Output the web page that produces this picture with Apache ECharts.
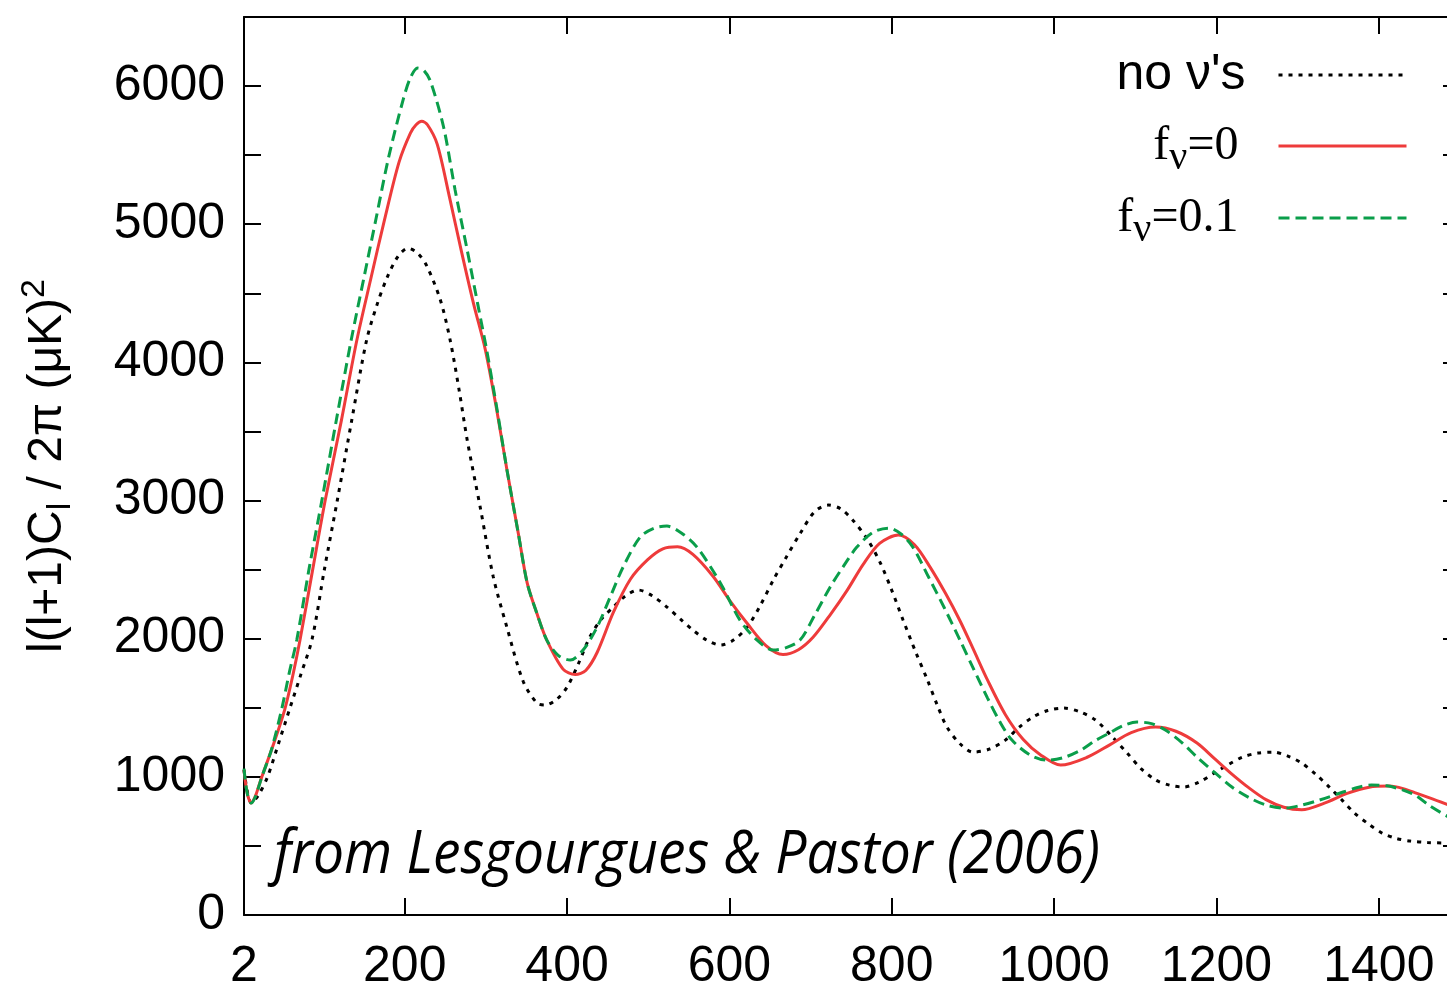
<!DOCTYPE html>
<html>
<head>
<meta charset="utf-8">
<script src="https://cdn.jsdelivr.net/npm/echarts@6/dist/echarts.min.js"></script>
<style>
html,body{margin:0;padding:0;background:#fff;}
#chart{width:1447px;height:985px;}
</style>
</head>
<body>
<div id="chart"></div>
<script>
// ---- data (multipole l, l(l+1)C_l/2pi in muK^2) ----
const seriesNames = ["no ν's", "fν=0", "fν=0.1"];

const lNoNu = [2,11,20,31,45,59,72,86,101,117,135,153,166,178,192,204,216,227,244,256,267,277,293,309,326,346,363,373,387,400,414,428,442,457,472,488,505,523,540,555,572,589,605,622,638,654,670,687,705,722,737,752,770,786,800,814,829,844,856,868,884,900,920,940,957,974,992,1012,1032,1051,1070,1090,1107,1125,1142,1159,1178,1197,1215,1232,1251,1270,1288,1305,1322,1339,1355,1370,1387,1404,1421,1439,1460,1484,1500];
const cNoNu = [1050,810,870,1000,1250,1505,1740,2000,2500,3003,3590,4160,4420,4610,4770,4826,4790,4700,4450,4160,3800,3437,2952,2450,2080,1690,1534,1520,1560,1650,1820,2012,2140,2229,2310,2352,2310,2229,2140,2062,1990,1954,1990,2084,2240,2424,2590,2760,2920,2967,2940,2858,2720,2547,2350,2134,1910,1700,1520,1360,1240,1179,1200,1266,1360,1433,1480,1498,1470,1411,1300,1172,1060,977,940,926,960,1027,1090,1143,1172,1179,1150,1100,1020,926,830,738,660,593,555,535,525,521,525];

const lF0 = [2,6,11,16,20,24,38,52,62,71,86,102,122,141,158,175,193,207,214,221,228,240,255,270,285,299,312,326,340,351,363,375,395,410,423,437,457,478,499,518,536,555,580,600,622,645,666,685,703,725,745,765,785,808,828,847,866,884,900,918,940,962,983,1008,1040,1068,1095,1125,1150,1176,1198,1219,1240,1261,1283,1305,1333,1361,1388,1413,1430,1447,1466,1484,1500];
const cF0 = [1050,880,810,860,930,1000,1230,1483,1730,1990,2480,3000,3580,4160,4600,5030,5450,5660,5720,5745,5720,5580,5200,4800,4420,4100,3700,3220,2760,2400,2180,1990,1780,1740,1770,1900,2190,2430,2570,2650,2665,2610,2450,2280,2110,1950,1885,1920,2010,2180,2350,2540,2690,2750,2680,2520,2330,2130,1930,1700,1450,1270,1160,1085,1140,1230,1320,1360,1330,1245,1130,1020,920,835,780,762,810,880,925,933,915,880,840,800,760];

const lF01 = [2,6,11,16,20,24,36,49,58,67,82,98,116,134,150,165,180,198,207,216,224,232,248,262,277,290,301,314,326,340,351,363,375,389,404,420,437,453,469,490,507,523,542,560,589,613,634,654,670,687,705,724,740,757,777,796,811,826,845,865,884,900,918,933,948,970,991,1012,1033,1050,1068,1085,1102,1120,1137,1157,1176,1198,1219,1240,1261,1284,1305,1327,1356,1375,1391,1410,1430,1447,1463,1484,1500];
const cF01 = [1060,880,810,855,925,1000,1200,1505,1760,1990,2500,3003,3590,4160,4620,5050,5480,5900,6060,6130,6110,6030,5700,5250,4812,4420,4088,3650,3220,2760,2400,2180,1990,1880,1845,1920,2084,2300,2518,2735,2800,2815,2760,2663,2402,2134,1990,1918,1935,1990,2170,2373,2520,2663,2770,2800,2760,2663,2450,2220,1990,1790,1570,1400,1266,1160,1121,1140,1194,1260,1317,1370,1397,1385,1339,1250,1143,1030,926,850,796,774,795,832,890,925,941,935,904,860,789,716,670];

const xTicks = [2,200,400,600,800,1000,1200,1400];
const yTicks = [0,1000,2000,3000,4000,5000,6000];
const annotation = 'from Lesgourgues & Pastor (2006)';

function zip(a, b) { return a.map((v, i) => [v, b[i]]); }

const chart = echarts.init(document.getElementById('chart'), null, {renderer: 'canvas'});
const AX = {color: '#000', width: 2};
const SANS = 'Liberation Sans';
const SERIF = 'Liberation Serif';
const plain = v => String(v);

const option = {
  animation: false,
  backgroundColor: '#ffffff',
  grid: {left: 244, top: 17, width: 1216, height: 898, containLabel: false, outerBoundsMode: 'none'},
  xAxis: [
    {type: 'value', min: 2, max: 1500, position: 'bottom',
     axisLine: {show: true, onZero: false, lineStyle: AX},
     axisTick: {show: true, inside: true, length: 17, customValues: xTicks, lineStyle: AX},
     axisLabel: {show: true, customValues: xTicks, formatter: plain, fontSize: 50, fontFamily: SANS, color: '#000', margin: 27},
     splitLine: {show: false}},
    {type: 'value', min: 2, max: 1500, position: 'top',
     axisLine: {show: true, onZero: false, lineStyle: AX},
     axisTick: {show: true, inside: true, length: 17, customValues: xTicks, lineStyle: AX},
     axisLabel: {show: false},
     splitLine: {show: false}}
  ],
  yAxis: [
    {type: 'value', min: 0, max: 6500, interval: 500, position: 'left',
     axisLine: {show: true, onZero: false, lineStyle: AX},
     axisTick: {show: true, inside: true, length: 17, lineStyle: AX},
     axisLabel: {show: true, customValues: yTicks, formatter: plain, fontSize: 50, fontFamily: SANS, color: '#000', margin: 19},
     splitLine: {show: false},
     name: '{m|l(l+1)C}{s|l}{m| / 2π (μK)}{p|2}',
     nameLocation: 'middle', nameRotate: 90, nameGap: 166,
     nameTextStyle: {
       color: '#000', fontFamily: SANS, fontSize: 48,
       rich: {
         m: {fontSize: 48, fontFamily: SANS, color: '#000', lineHeight: 60, verticalAlign: 'middle'},
         s: {fontSize: 34, fontFamily: SANS, color: '#000', lineHeight: 46, verticalAlign: 'bottom'},
         p: {fontSize: 34, fontFamily: SANS, color: '#000', lineHeight: 36, verticalAlign: 'top'}
       }
     }},
    {type: 'value', min: 0, max: 6500, interval: 500, position: 'right',
     axisLine: {show: true, onZero: false, lineStyle: AX},
     axisTick: {show: true, inside: true, length: 17, lineStyle: AX},
     axisLabel: {show: false},
     splitLine: {show: false}}
  ],
  legend: {
    orient: 'vertical', right: 39, top: 44, align: 'right', padding: 0,
    itemWidth: 128, itemHeight: 14, itemGap: 16,
    data: seriesNames,
    lineStyle: {width: 3},
    itemStyle: {color: 'rgba(0,0,0,0)', borderWidth: 0, opacity: 0},
    formatter: function (name) {
      if (name === seriesNames[0]) return '{n|no ν\'s}';
      if (name === seriesNames[1]) return '{f|f}{v|ν}{e|=0}';
      return '{f|f}{v|ν}{e|=0.1}';
    },
    textStyle: {
      color: '#000',
      rich: {
        n: {fontFamily: SANS, fontSize: 50, color: '#000', lineHeight: 64, verticalAlign: 'middle', padding: [6, 28, 6, 0]},
        f: {fontFamily: SERIF, fontSize: 48, color: '#000', lineHeight: 64, verticalAlign: 'middle'},
        v: {fontFamily: SERIF, fontSize: 40, color: '#000', lineHeight: 32, verticalAlign: 'bottom'},
        e: {fontFamily: SERIF, fontSize: 48, color: '#000', lineHeight: 64, verticalAlign: 'middle', padding: [0, 35, 0, 0]}
      }
    }
  },
  graphic: [{
    type: 'text', x: 274, y: 856, scaleX: 0.92, z: 100,
    style: {text: annotation, font: 'italic 60px "Open Sans"', fill: '#000', verticalAlign: 'middle', align: 'left'}
  }],
  series: [
    {name: seriesNames[0], type: 'line', data: zip(lNoNu, cNoNu), xAxisIndex: 0, yAxisIndex: 0,
     symbol: 'none', smooth: 0.3, clip: true,
     lineStyle: {color: '#000000', width: 3, type: [4, 6], cap: 'butt'}, itemStyle: {color: '#000000'}, z: 2},
    {name: seriesNames[1], type: 'line', data: zip(lF0, cF0), xAxisIndex: 0, yAxisIndex: 0,
     symbol: 'none', smooth: 0.3, clip: true,
     lineStyle: {color: '#ee3b3b', width: 3, type: 'solid'}, itemStyle: {color: '#ee3b3b'}, z: 3},
    {name: seriesNames[2], type: 'line', data: zip(lF01, cF01), xAxisIndex: 0, yAxisIndex: 0,
     symbol: 'none', smooth: 0.3, clip: true,
     lineStyle: {color: '#0a9e4a', width: 3, type: [11, 6], cap: 'butt'}, itemStyle: {color: '#0a9e4a'}, z: 4}
  ]
};
chart.setOption(option);
</script>
</body>
</html>
